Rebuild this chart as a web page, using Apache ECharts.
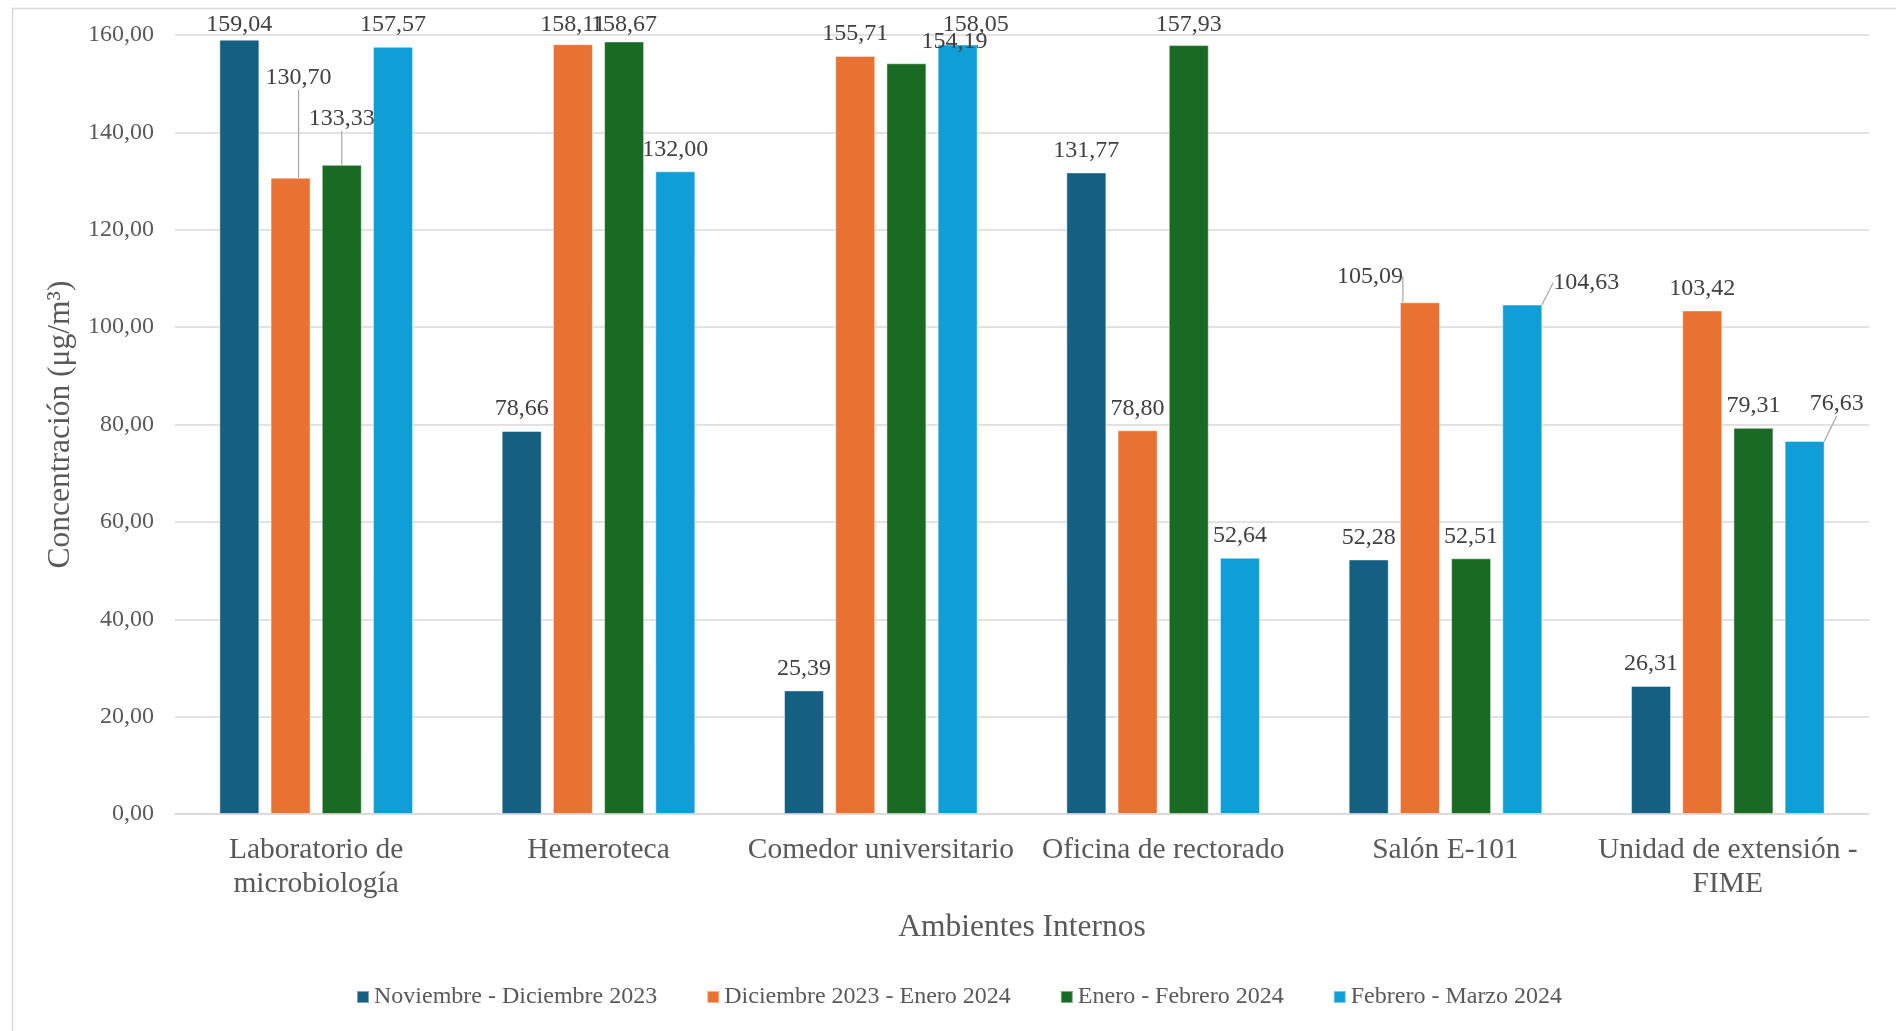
<!DOCTYPE html>
<html>
<head>
<meta charset="utf-8">
<script src="https://cdn.jsdelivr.net/npm/echarts@6/dist/echarts.min.js"></script>
<style>
html,body{margin:0;padding:0;background:#fff;}
#chart{width:1896px;height:1031px;}
</style>
</head>
<body>
<div id="chart"></div>
<script>
// ---- data ----
var categories = ['Laboratorio de\nmicrobiología', 'Hemeroteca', 'Comedor universitario', 'Oficina de rectorado', 'Salón E-101', 'Unidad de extensión -\nFIME'];
var seriesNames = ['Noviembre - Diciembre 2023', 'Diciembre 2023 - Enero 2024', 'Enero - Febrero 2024', 'Febrero - Marzo 2024'];
var novDic = [159.04, 78.66, 25.39, 131.77, 52.28, 26.31];
var dicEne = [130.70, 158.11, 155.71, 78.80, 105.09, 103.42];
var eneFeb = [133.33, 158.67, 154.19, 157.93, 52.51, 79.31];
var febMar = [157.57, 132.00, 158.05, 52.64, 104.63, 76.63];
var yTicks = { min: 0, max: 160, interval: 20 };

// ---- style ----
var colors = ['#156082', '#E97132', '#196B24', '#0F9ED5'];
var FONT = 'Liberation Serif';
// label nudges (dx, dy, leader line) per series / category
var labelMoves = {
  1: { 0: [8, -78, true], 4: [-50, -4, true] },
  2: { 0: [0, -24, true], 2: [48, 0, false] },
  3: { 2: [18, 0, false], 4: [64, 0, true], 5: [32, -15, true] }
};
var LABEL_MIN_TOP = 13;

function fmt(v) { return v.toFixed(2).replace('.', ','); }

var allValues = [novDic, dicEne, eneFeb, febMar];
var series = allValues.map(function (arr, si) {
  return {
    name: seriesNames[si],
    type: 'bar',
    barWidth: 40,
    barGap: '28%',
    itemStyle: { color: colors[si], borderColor: 'rgba(255,255,255,0.45)', borderWidth: 1 },
    label: {
      show: true, position: 'top', distance: 10,
      fontFamily: FONT, fontSize: 24, color: '#404040',
      formatter: function (p) { return fmt(p.value); }
    },
    labelLine: { show: false, lineStyle: { color: '#a6a6a6', width: 1.2 } },
    labelLayout: function (p) {
      var m = (labelMoves[si] || {})[p.dataIndex];
      var dx = m ? m[0] : 0, dy = m ? m[1] : 0;
      if (p.labelRect.y + dy < LABEL_MIN_TOP) dy = LABEL_MIN_TOP - p.labelRect.y;
      return { dx: dx, dy: dy };
    },
    data: arr.map(function (v, i) {
      var m = (labelMoves[si] || {})[i];
      if (m && m[2]) return { value: v, labelLine: { show: true, lineStyle: { color: '#a6a6a6', width: 1.2 } } };
      return v;
    })
  };
});

var chart = echarts.init(document.getElementById('chart'), null, { renderer: 'canvas' });
chart.setOption({
  animation: false,
  color: colors,
  textStyle: { fontFamily: FONT },
  graphic: [{
    type: 'rect', left: 10, top: 6, silent: true,
    shape: { width: 2000, height: 2000 },
    style: { fill: 'none', stroke: '#d9d9d9', lineWidth: 1.5 }
  }],
  grid: { left: 175, right: 27, top: 35, bottom: 217, containLabel: false },
  legend: {
    left: 356, top: 985, padding: 0,
    icon: 'rect', itemWidth: 12, itemHeight: 12, itemGap: 49,
    textStyle: { fontFamily: FONT, fontSize: 24, color: '#595959' },
    data: seriesNames
  },
  xAxis: {
    type: 'category',
    data: categories,
    name: 'Ambientes Internos',
    nameLocation: 'middle',
    nameGap: 98,
    nameTextStyle: { fontFamily: FONT, fontSize: 31.5, color: '#595959' },
    axisLine: { lineStyle: { color: '#d9d9d9', width: 1.5 } },
    axisTick: { show: false },
    axisLabel: { fontFamily: FONT, fontSize: 29.5, lineHeight: 34, color: '#595959', margin: 19, interval: 0 }
  },
  yAxis: {
    type: 'value',
    min: yTicks.min, max: yTicks.max, interval: yTicks.interval,
    name: 'Concentración (μg/m³)',
    nameLocation: 'middle',
    nameGap: 93.5,
    nameRotate: 90,
    nameTextStyle: { fontFamily: FONT, fontSize: 31.5, color: '#595959' },
    axisLine: { show: false },
    axisTick: { show: false },
    splitLine: { lineStyle: { color: '#d9d9d9', width: 1.5 } },
    axisLabel: { fontFamily: FONT, fontSize: 24, color: '#595959', margin: 21, formatter: function (v) { return fmt(v); } }
  },
  series: series
});
</script>
</body>
</html>
